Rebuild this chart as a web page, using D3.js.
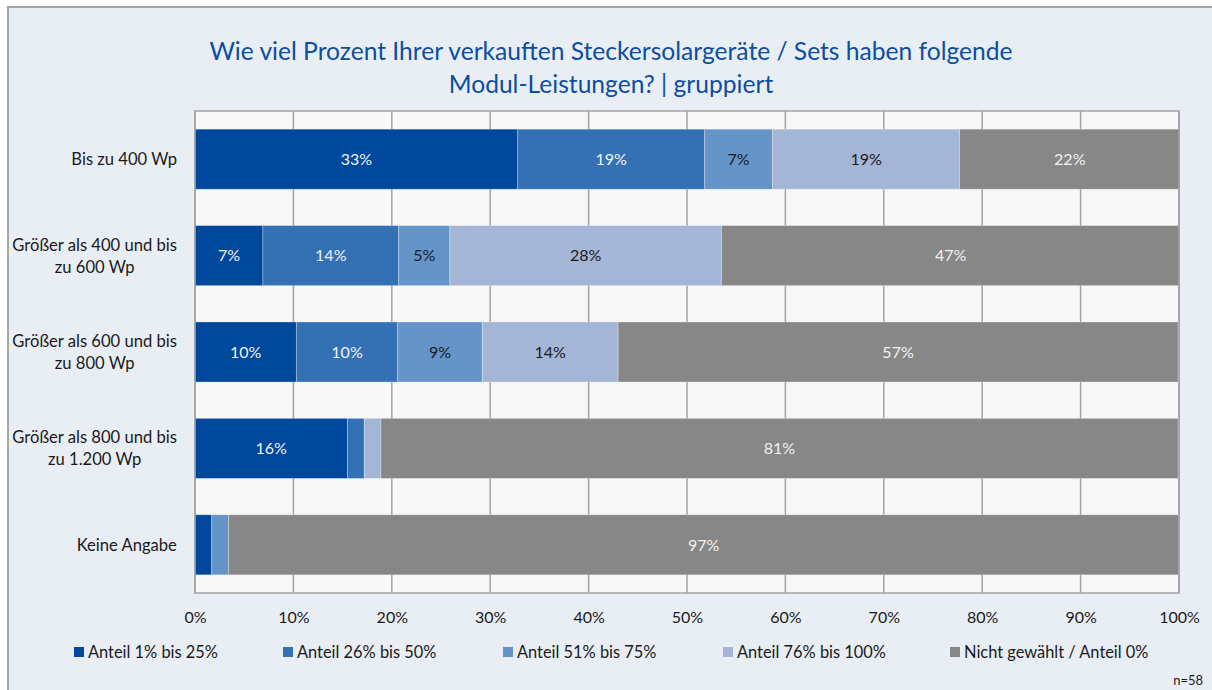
<!DOCTYPE html>
<html>
<head>
<meta charset="utf-8">
<script src="https://cdn.jsdelivr.net/npm/d3@7"></script>
<style>
  html, body { margin: 0; padding: 0; background: #ffffff; }
  svg { display: block; font-family: Lato, "Open Sans", sans-serif; }
</style>
</head>
<body>
<svg id="chart" width="1212" height="690"></svg>
<script>
// Module power classes (rows, top to bottom)
const categories = [
  ["Bis zu 400 Wp"],
  ["Größer als 400 und bis", "zu 600 Wp"],
  ["Größer als 600 und bis", "zu 800 Wp"],
  ["Größer als 800 und bis", "zu 1.200 Wp"],
  ["Keine Angabe"]
];

// Share-of-sales groups (stack order, left to right)
const seriesNames = [
  "Anteil 1% bis 25%",
  "Anteil 26% bis 50%",
  "Anteil 51% bis 75%",
  "Anteil 76% bis 100%",
  "Nicht gewählt / Anteil 0%"
];

// Percent of respondents per row, one array per series (n=58)
const share1to25   = [32.8,  6.9, 10.3, 15.5,  1.7];
const share26to50  = [19.0, 13.8, 10.3,  1.7,  0.0];
const share51to75  = [ 6.9,  5.2,  8.6,  0.0,  1.7];
const share76to100 = [19.0, 27.6, 13.8,  1.7,  0.0];
const notChosen    = [22.4, 46.6, 56.9, 81.0, 96.6];

const xTicks = [0, 10, 20, 30, 40, 50, 60, 70, 80, 90, 100];
const sampleNote = "n=58";

const titleLines = [
  "Wie viel Prozent Ihrer verkauften Steckersolargeräte / Sets haben folgende",
  "Modul-Leistungen? | gruppiert"
];

const colors = ["#00489c", "#3471b4", "#6595c8", "#a5b5d6", "#878787"];
const labelColors = ["#f2f2f2", "#f2f2f2", "#1a1a1a", "#1a1a1a", "#f2f2f2"];

const seriesValues = [share1to25, share26to50, share51to75, share76to100, notChosen];

// Build one record per row for d3.stack
const rows = categories.map((c, i) => {
  const r = { key: i };
  seriesNames.forEach((s, j) => { r[s] = seriesValues[j][i]; });
  return r;
});
const stacked = d3.stack().keys(seriesNames)(rows);

const svg = d3.select("#chart");
const W = 1212, H = 690;

// Chart background and frame
svg.append("rect").attr("x", 0).attr("y", 0).attr("width", W).attr("height", H).attr("fill", "#ffffff");
svg.append("rect")
  .attr("x", 8).attr("y", 7).attr("width", W + 10).attr("height", H + 10)
  .attr("fill", "#e9eef4").attr("stroke", "#a6a6a6").attr("stroke-width", 2);

const plot = { left: 195, right: 1179, top: 111, bottom: 593 };

const x = d3.scaleLinear().domain([0, 100]).range([plot.left, plot.right]);
const y = d3.scaleBand().domain(d3.range(categories.length))
  .range([plot.top, plot.bottom]).paddingInner(0.377).paddingOuter(0.1885);

// Plot area
svg.append("rect")
  .attr("x", plot.left).attr("y", plot.top)
  .attr("width", plot.right - plot.left).attr("height", plot.bottom - plot.top)
  .attr("fill", "#f8f8f8");

// Vertical gridlines
svg.append("g").selectAll("line").data(xTicks).join("line")
  .attr("x1", d => x(d)).attr("x2", d => x(d))
  .attr("y1", plot.top).attr("y2", plot.bottom)
  .attr("stroke", "#a3a3a3").attr("stroke-width", 1.5);

// Stacked bars
const layer = svg.append("g").selectAll("g").data(stacked).join("g")
  .attr("fill", (d, i) => colors[i]);

layer.selectAll("rect").data(d => d).join("rect")
  .attr("x", d => x(d[0]))
  .attr("y", (d, i) => y(i))
  .attr("width", d => Math.max(0, x(d[1]) - x(d[0])))
  .attr("height", y.bandwidth())
  .attr("stroke", "#ffffff").attr("stroke-opacity", 0.35).attr("stroke-width", 0.8);

// Value labels for segments wide enough to hold them
const fmt = d => Math.round(d) + "%";
stacked.forEach((s, si) => {
  svg.append("g").selectAll("text").data(s.filter(d => d[1] - d[0] >= 4.5)).join("text")
    .attr("x", d => (x(d[0]) + x(d[1])) / 2)
    .attr("y", d => y(d.data.key) + y.bandwidth() / 2)
    .attr("dy", "0.36em")
    .attr("text-anchor", "middle")
    .attr("font-size", 16)
    .attr("fill", labelColors[si])
    .text(d => fmt(d[1] - d[0]));
});

// Plot frame on top
svg.append("rect")
  .attr("x", plot.left).attr("y", plot.top)
  .attr("width", plot.right - plot.left).attr("height", plot.bottom - plot.top)
  .attr("fill", "none").attr("stroke", "#a3a3a3").attr("stroke-width", 1.5);

// Category labels: lines centred on each other, block right-aligned
const catG = svg.append("g");
categories.forEach((lines, i) => {
  const cy = y(i) + y.bandwidth() / 2;
  const lh = 22;
  const t = catG.append("text")
    .attr("text-anchor", "middle")
    .attr("font-size", 16.6).attr("fill", "#1a1a1a");
  lines.forEach((ln, k) => {
    t.append("tspan")
      .attr("x", 0)
      .attr("y", cy + (k - (lines.length - 1) / 2) * lh)
      .attr("dy", "0.36em")
      .text(ln);
  });
  const w = t.node().getBBox().width;
  t.selectAll("tspan").attr("x", 177 - w / 2);
});

// X axis tick labels
const xAxis = d3.axisBottom(x).tickValues(xTicks).tickFormat(d => d + "%").tickSize(0).tickPadding(0);
const ax = svg.append("g").attr("transform", `translate(0, ${plot.bottom + 24})`).call(xAxis);
ax.select(".domain").remove();
ax.selectAll("text").attr("font-size", 16).attr("fill", "#1a1a1a")
  .attr("font-family", "Lato, 'Open Sans', sans-serif").attr("dy", "0.36em").attr("y", 0);

// Title
svg.append("g").selectAll("text").data(titleLines).join("text")
  .attr("x", 611).attr("y", (d, i) => 60 + i * 33)
  .attr("text-anchor", "middle")
  .attr("font-size", 24.6).attr("fill", "#0b4ea2")
  .text(d => d);

// Legend
const legendX = [74, 283, 503, 723, 950];
const lg = svg.append("g").selectAll("g").data(seriesNames).join("g")
  .attr("transform", (d, i) => `translate(${legendX[i]}, 652)`);
lg.append("rect").attr("x", 0).attr("y", -5).attr("width", 10).attr("height", 10)
  .attr("fill", (d, i) => colors[i]);
lg.append("text").attr("x", 14).attr("dy", "0.36em")
  .attr("font-size", 16.4).attr("fill", "#1a1a1a").text(d => d);

// Sample size note
svg.append("text").attr("x", 1203).attr("y", 680).attr("dy", "0.36em")
  .attr("text-anchor", "end").attr("font-size", 13).attr("fill", "#1a1a1a")
  .text(sampleNote);
</script>
</body>
</html>
